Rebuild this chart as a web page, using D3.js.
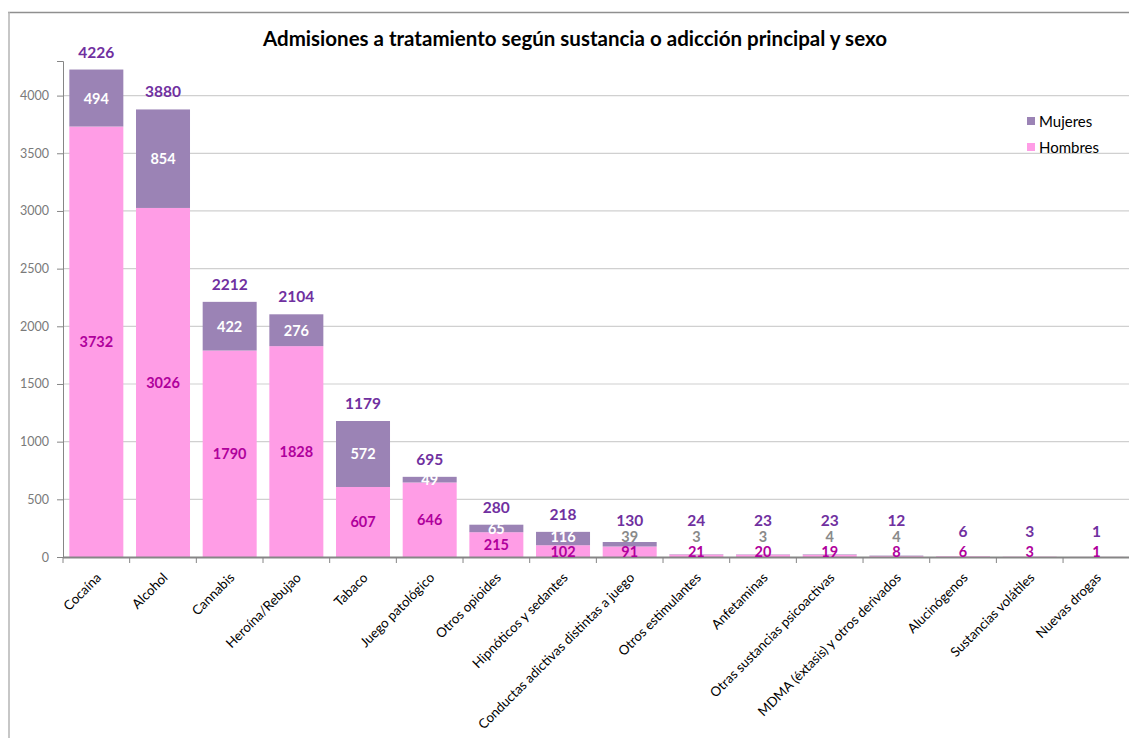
<!DOCTYPE html>
<html>
<head>
<meta charset="utf-8">
<script src="https://cdn.jsdelivr.net/npm/d3@7"></script>
<style>
  html, body { margin: 0; padding: 0; background: #fff; }
  svg { display: block; font-family: Lato, "Open Sans", sans-serif; }
</style>
</head>
<body>
<svg id="chart" width="1129" height="738"></svg>
<script>
// Categories (substance / addiction) and admissions by sex
const categories = [
  "Cocaína", "Alcohol", "Cannabis", "Heroína/Rebujao", "Tabaco", "Juego patológico",
  "Otros opioides", "Hipnóticos y sedantes", "Conductas adictivas distintas a juego",
  "Otros estimulantes", "Anfetaminas", "Otras sustancias psicoactivas",
  "MDMA (éxtasis) y otros derivados", "Alucinógenos", "Sustancias volátiles", "Nuevas drogas"
];
const hombres = [3732, 3026, 1790, 1828, 607, 646, 215, 102, 91, 21, 20, 19, 8, 6, 3, 1];
const mujeres = [494, 854, 422, 276, 572, 49, 65, 116, 39, 3, 3, 4, 4, 0, 0, 0];
const totales = [4226, 3880, 2212, 2104, 1179, 695, 280, 218, 130, 24, 23, 23, 12, 6, 3, 1];
const yTicks = [0, 500, 1000, 1500, 2000, 2500, 3000, 3500, 4000];
const seriesNames = ["Mujeres", "Hombres"];

const title = "Admisiones a tratamiento según sustancia o adicción principal y sexo";

const colors = { Hombres: "#ff9de6", Mujeres: "#9b83b5" };
const svg = d3.select("#chart");

// frame
svg.append("line").attr("x1", 8).attr("x2", 1129).attr("y1", 12.5).attr("y2", 12.5)
  .attr("stroke", "#8f8f8f").attr("stroke-width", 1.5);
svg.append("line").attr("x1", 9).attr("x2", 9).attr("y1", 12).attr("y2", 738)
  .attr("stroke", "#b5b5b5").attr("stroke-width", 1.5);

const x0 = 63, x1 = 63 + 16 * 66.67;
const yZero = 557;
const x = d3.scaleBand().domain(categories).range([x0, x1]).paddingInner(0.19).paddingOuter(0.095);
const y = d3.scaleLinear().domain([0, 4300]).range([yZero, 61]);

// gridlines
svg.append("g").selectAll("line").data(yTicks.filter(t => t > 0)).join("line")
  .attr("x1", x0).attr("x2", 1129)
  .attr("y1", d => y(d)).attr("y2", d => y(d))
  .attr("stroke", "#d0d0d0").attr("stroke-width", 1.2);

// y axis
const yAxis = svg.append("g").attr("transform", `translate(${x0},0)`)
  .call(d3.axisLeft(y).tickValues(yTicks).tickSize(6).tickPadding(8).tickFormat(d3.format("d")));
yAxis.select(".domain").attr("stroke", "#868686");
yAxis.selectAll(".tick line").attr("stroke", "#868686");
yAxis.selectAll(".tick text").attr("fill", "#7a7a7a").style("font-size", "12.5px")
  .style("font-family", "Lato, sans-serif");

// stacked bars
const rows = categories.map((c, i) => ({ c, h: hombres[i], m: mujeres[i], t: totales[i] }));
const bars = svg.append("g");
bars.selectAll("rect.h").data(rows).join("rect").attr("class", "h")
  .attr("x", d => x(d.c)).attr("width", x.bandwidth())
  .attr("y", d => y(d.h)).attr("height", d => yZero - y(d.h))
  .attr("fill", colors.Hombres);
bars.selectAll("rect.m").data(rows.filter(d => d.m > 0)).join("rect").attr("class", "m")
  .attr("x", d => x(d.c)).attr("width", x.bandwidth())
  .attr("y", d => y(d.h + d.m)).attr("height", d => y(d.h) - y(d.h + d.m))
  .attr("fill", colors.Mujeres);

// x axis line & ticks at band boundaries
svg.append("line").attr("x1", x0).attr("x2", 1129).attr("y1", yZero + 0.5).attr("y2", yZero + 0.5)
  .attr("stroke", "#868686").attr("stroke-width", 2);
const step = x.step();
svg.append("g").selectAll("line").data(d3.range(categories.length + 1)).join("line")
  .attr("x1", i => x0 + i * step).attr("x2", i => x0 + i * step)
  .attr("y1", yZero).attr("y2", yZero + 6)
  .attr("stroke", "#868686").attr("stroke-width", 1);

// x labels rotated
svg.append("g").selectAll("text").data(categories).join("text")
  .attr("transform", c => `translate(${x(c) + x.bandwidth() / 2 + 2},${yZero + 18}) rotate(-45)`)
  .attr("text-anchor", "end").attr("dominant-baseline", "central")
  .style("font-size", "13.3px").attr("fill", "#000").text(c => c);

// value labels
const hLabelY = d => Math.min((y(d.h) + yZero) / 2, yZero - 6);
const labels = svg.append("g").style("font-weight", "bold")
  .attr("text-anchor", "middle").attr("dominant-baseline", "central");
labels.selectAll("text.h").data(rows).join("text").attr("class", "h")
  .attr("x", d => x(d.c) + x.bandwidth() / 2).attr("y", hLabelY)
  .attr("fill", "#b0009c").style("font-size", "14.5px").text(d => d.h);
labels.selectAll("text.m").data(rows.filter(d => d.m > 0)).join("text").attr("class", "m")
  .attr("x", d => x(d.c) + x.bandwidth() / 2)
  .attr("y", d => Math.min((y(d.h) + y(d.h + d.m)) / 2, hLabelY(d) - 15))
  .attr("fill", d => d.m < 40 ? "#8a8a8a" : "#ffffff").style("font-size", "14.5px").text(d => d.m);
labels.selectAll("text.t").data(rows).join("text").attr("class", "t")
  .attr("x", d => x(d.c) + x.bandwidth() / 2)
  .attr("y", d => Math.min(y(d.t) - 18, d.m > 0 ? yZero - 37 : yZero - 26))
  .attr("fill", "#7030a0").style("font-size", "15.5px").text(d => d.t);

// title
svg.append("text").attr("x", 575).attr("y", 38).attr("text-anchor", "middle")
  .attr("dominant-baseline", "central")
  .style("font-size", "20.5px").style("font-weight", "bold").attr("fill", "#000").text(title);

// legend
const legend = svg.append("g");
seriesNames.forEach((s, i) => {
  const ly = 121 + i * 26;
  legend.append("rect").attr("x", 1027).attr("y", ly - 4).attr("width", 8).attr("height", 8)
    .attr("fill", colors[s]);
  legend.append("text").attr("x", 1039).attr("y", ly).attr("dominant-baseline", "central")
    .style("font-size", "15px").attr("fill", "#000").text(s);
});
</script>
</body>
</html>
